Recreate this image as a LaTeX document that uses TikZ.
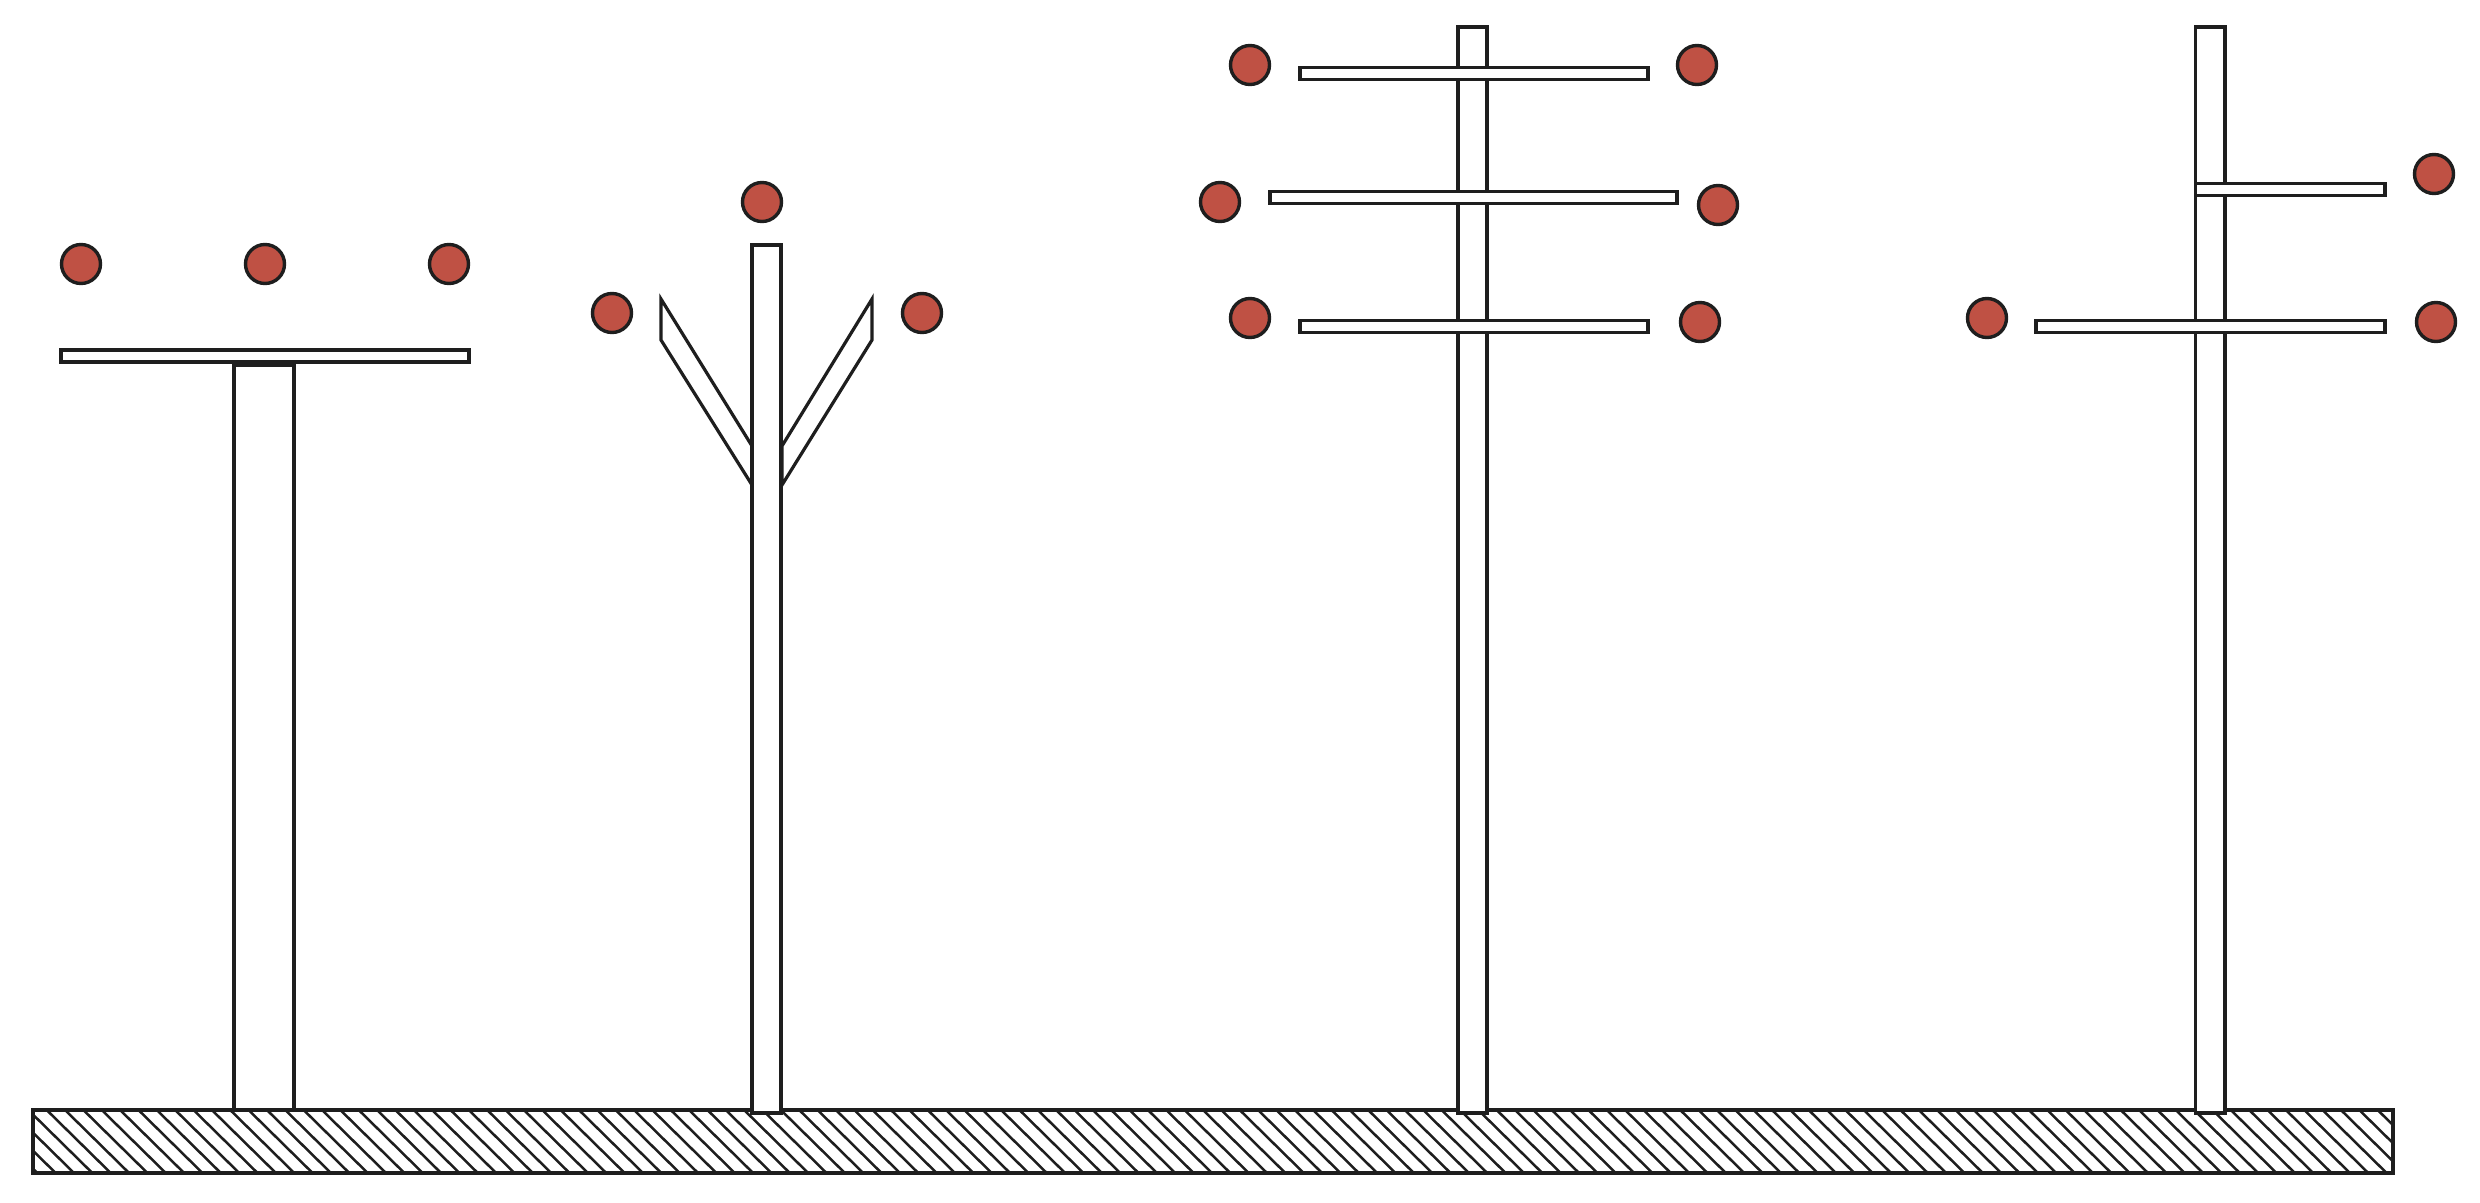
\documentclass[tikz,border=0pt]{standalone}
\definecolor{wire}{HTML}{BF5144}
\definecolor{ink}{HTML}{1E1E1E}
\tikzset{
  x=0.5pt,y=-0.5pt,
  part/.style={draw=ink,line width=1.6pt,fill=white,line join=miter},
  wirept/.style={draw=ink,line width=1.7pt,fill=wire},
  hatch/.style={draw=ink,line width=1.25pt}
}
\begin{document}
\begin{tikzpicture}
\useasboundingbox (0,0) rectangle (2480,1203);
\fill[white] (0,0) rectangle (2480,1203);
% ground
\begin{scope}
\clip (33,1110) rectangle (2393,1173);
\foreach \i in {-6,...,130}{
  \draw[hatch] ({46.7+18.354*\i},1110) -- ++(64,63);
}
\end{scope}
\draw[part,fill=none] (33,1110) rectangle (2393,1173);
% pole 1
\draw[part] (234,1110) rectangle (294,365);
\draw[part] (61,350) rectangle (469,362);
\draw[wirept] (81,264) circle (19.5);
\draw[wirept] (265,264) circle (19.5);
\draw[wirept] (449,264) circle (19.5);
% pole 2
\draw[part] (661,299) -- (661,340) -- (752,485) -- (752,446) -- cycle;
\draw[part] (872,299) -- (872,340) -- (782,485) -- (782,446) -- cycle;
\draw[part] (752,245) rectangle (781,1113);
\draw[wirept] (762,202) circle (19.5);
\draw[wirept] (612,313) circle (19.5);
\draw[wirept] (922,313) circle (19.5);
% pole 3
\draw[part] (1458,27) rectangle (1487,1113);
\draw[part] (1300,67.5) rectangle (1648,79.5);
\draw[part] (1270,191.5) rectangle (1677,203.5);
\draw[part] (1300,320.5) rectangle (1648,332.5);
\draw[wirept] (1250,65) circle (19.5);
\draw[wirept] (1697,65) circle (19.5);
\draw[wirept] (1220,202) circle (19.5);
\draw[wirept] (1718,205) circle (19.5);
\draw[wirept] (1250,318) circle (19.5);
\draw[wirept] (1700,322) circle (19.5);
% pole 4
\draw[part] (2195.5,27) rectangle (2225,1113);
\draw[part] (2195.5,183.5) rectangle (2385,195.5);
\draw[part] (2036,320.5) rectangle (2385,332.5);
\draw[wirept] (2434,174) circle (19.5);
\draw[wirept] (1987,318) circle (19.5);
\draw[wirept] (2436,322) circle (19.5);
\end{tikzpicture}
\end{document}
